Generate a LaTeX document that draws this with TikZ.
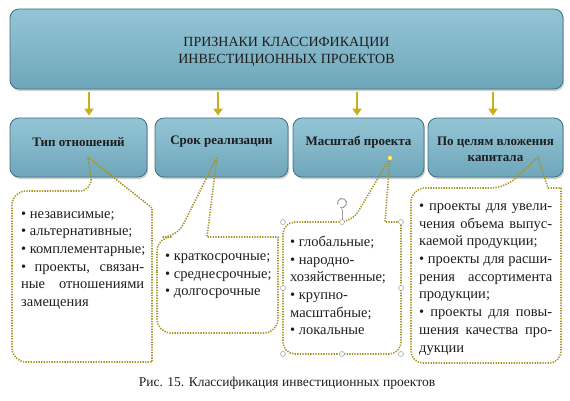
\documentclass[tikz,border=0pt]{standalone}
\usepackage{fontspec}
\setmainfont{Liberation Serif}
\usetikzlibrary{shadows,arrows.meta}
\definecolor{boxtop}{HTML}{94C5D6}
\definecolor{boxbot}{HTML}{6FA6BA}
\definecolor{boxline}{HTML}{426F82}
\definecolor{gold}{HTML}{C9AF18}
\definecolor{olivedot}{HTML}{A39526}
\definecolor{txt}{HTML}{1E1E1E}
\newcommand{\JL}[2]{\makebox[#1][s]{#2}}
\begin{document}
\begin{tikzpicture}[x=1pt,y=-1pt,
  bluebox/.style={rectangle, rounded corners=9pt, top color=boxtop, bottom color=boxbot,
    draw=boxline, line width=0.8pt,
    drop shadow={shadow xshift=1.2pt, shadow yshift=-2pt, opacity=0.4}},
  headtext/.style={inner sep=0pt, align=center, text=txt, font=\bfseries\fontsize{13}{16}\selectfont},
  ctext/.style={inner sep=0pt, align=left, anchor=north west, text=txt, font=\fontsize{14.5}{17.7}\selectfont},
  arr/.style={draw=gold, line width=2.8pt, -{Triangle[width=9pt,length=7pt]}, shorten <=3pt, shorten >=2pt},
  callout/.style={draw=olivedot, line width=1.6pt, dash pattern=on 1.3pt off 1.3pt, line join=round},
  handle/.style={draw=black!35, fill=white, line width=0.6pt, circle, inner sep=0pt, minimum size=5pt}
]
\useasboundingbox (0,0) rectangle (570,401);

% top box
\node[bluebox, minimum width=553pt, minimum height=80pt] (top) at (286.5,49) {};
\node[inner sep=0pt, align=center, text=txt, font=\fontsize{14}{17}\selectfont] (title) at (286.5,51.5)
  {ПРИЗНАКИ КЛАССИФИКАЦИИ\\ИНВЕСТИЦИОННЫХ ПРОЕКТОВ};

% second row
\node[bluebox, minimum width=137pt, minimum height=59pt] (b1) at (78.5,147.5) {};
\node[bluebox, minimum width=133pt, minimum height=59pt] (b2) at (221.5,147.5) {};
\node[bluebox, minimum width=131pt, minimum height=59pt] (b3) at (358.5,147.5) {};
\node[bluebox, minimum width=135pt, minimum height=59pt] (b4) at (495.5,147.5) {};
\node[headtext] (t1) at (78.5,142) {Тип отношений};
\node[headtext] (t2) at (221.5,142) {Срок реализации};
\node[headtext] (t3) at (358.5,142) {Масштаб проекта};
\node[headtext] (t4) at (495.5,149) {По целям вложения\\капитала};

% arrows
\coordinate (a1) at (89,0);
\coordinate (a2) at (218,0);
\coordinate (a3) at (357,0);
\coordinate (a4) at (493,0);
\draw[arr] (top.south -| a1) -- (b1.north -| a1);
\draw[arr] (top.south -| a2) -- (b2.north -| a2);
\draw[arr] (top.south -| a3) -- (b3.north -| a3);
\draw[arr] (top.south -| a4) -- (b4.north -| a4);

% callouts
\draw[callout] (12,280) [rounded corners=14pt] -- (12,191) -- (93,191) [sharp corners] -- (88,157) -- (152,208) -- (152,362) [rounded corners=14pt] -- (12,362) -- cycle;
\draw[callout] (157,285) [rounded corners=14pt] -- (157,237) -- (177,237) [sharp corners] -- (217,157) -- (207,237) -- (278,237) [rounded corners=14pt] -- (278,333) -- (157,333) -- cycle;
\draw[callout] (283,288) [rounded corners=12pt] -- (283,222) -- (352,222) [sharp corners] -- (390,158) -- (385,222) -- (401,222) [rounded corners=12pt] -- (401,354) -- (283,354) -- cycle;
\draw[callout] (411,275) [rounded corners=14pt] -- (411,188) -- (505,188) [sharp corners] -- (538,157) -- (548,188) -- (561,188) [rounded corners=12pt] -- (561,363) -- (411,363) -- cycle;

% callout texts
\node[ctext] (c1) at (21,205.5) {\strut•~независимые;\\•~альтернативные;\\•~комплементарные;\\
  \JL{123pt}{•~проекты, связан-}\\\JL{123pt}{ные отношениями}\\замещения};
\node[ctext] (c2) at (165,247.9) {\strut•~краткосрочные;\\•~среднесрочные;\\•~долгосрочные};
\node[ctext] (c3) at (290,233.9) {\strut•~глобальные;\\•~народно-\\хозяйственные;\\•~крупно-\\масштабные;\\•~локальные};
\node[ctext] (c4) at (419,197.9) {\strut\JL{133pt}{•~проекты для увели-}\\\JL{133pt}{чения объема выпус-}\\каемой продукции;\\
  \JL{133pt}{•~проекты для расши-}\\\JL{133pt}{рения ассортимента}\\продукции;\\
  \JL{133pt}{•~проекты для повы-}\\\JL{133pt}{шения качества про-}\\дукции};

% selection handles of the third callout
\draw[black!35, line width=0.6pt] (342,209) -- (342,222);
\draw[black!35, line width=1.2pt, -{Stealth[length=3pt]}] (342,203) ++(200:4.5pt) arc[start angle=200, end angle=-120, radius=4.5pt];
\foreach \p in {(283,222),(342,222),(401,222),(283,288),(401,288),(283,354),(342,354),(401,354)}
  \node[handle] at \p {};
\node[circle, draw=black!40, fill=yellow!70, inner sep=0pt, minimum size=5pt] (tipdot) at (390,158) {};

% caption
\node[inner sep=0pt, text=txt, font=\fontsize{13.5}{16}\selectfont] (cap) at (287,383) {Рис. 15. Классификация инвестиционных проектов};
\end{tikzpicture}
\end{document}
